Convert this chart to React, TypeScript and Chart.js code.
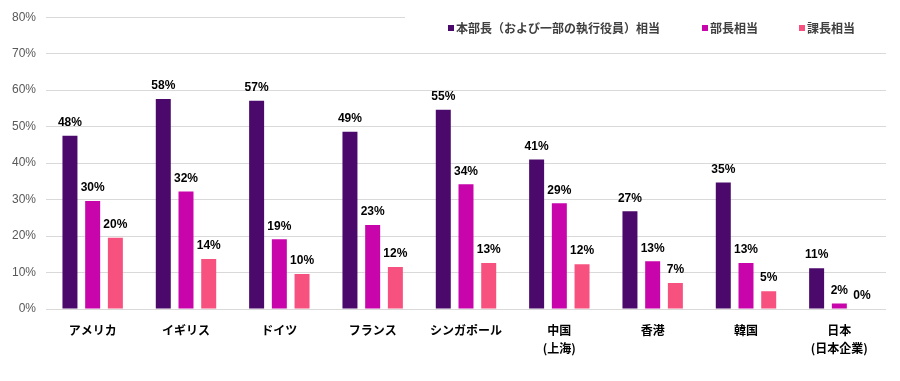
import React, { useEffect, useRef } from "react";
import { Chart, registerables } from "chart.js";

Chart.register(...registerables);

const categories: (string | string[])[] = [
  "アメリカ",
  "イギリス",
  "ドイツ",
  "フランス",
  "シンガポール",
  ["中国", "(上海)"],
  "香港",
  "韓国",
  ["日本", "(日本企業)"],
];

const seriesNames = ["本部長（および一部の執行役員）相当", "部長相当", "課長相当"];
const seriesColors = ["#4b0a6b", "#c805ab", "#f7527f"];

const executiveValues = [47.5, 57.6, 57.1, 48.6, 54.6, 41.0, 26.8, 34.7, 11.2];
const generalManagerValues = [29.6, 32.2, 19.1, 23.0, 34.2, 29.0, 13.1, 12.6, 1.5];
const sectionManagerValues = [19.5, 13.7, 9.6, 11.5, 12.6, 12.3, 7.1, 4.9, 0];

const yTicks = [0, 10, 20, 30, 40, 50, 60, 70, 80];

const labelPlugin = {
  id: "valueLabels",
  afterDatasetsDraw(chart: any) {
    const ctx = chart.ctx;
    ctx.save();
    ctx.font = "bold 12px 'Liberation Sans', Arial, sans-serif";
    ctx.fillStyle = "#000000";
    ctx.textAlign = "center";
    ctx.textBaseline = "middle";
    chart.data.datasets.forEach((ds: any, di: number) => {
      const meta = chart.getDatasetMeta(di);
      meta.data.forEach((el: any, i: number) => {
        const v = ds.data[i];
        ctx.fillText(`${Math.round(v)}%`, el.x, el.y - 13);
      });
    });
    ctx.restore();
  },
};

const legendPlugin = {
  id: "customLegend",
  afterDraw(chart: any) {
    const ctx = chart.ctx;
    ctx.save();
    ctx.fillStyle = "#ffffff";
    ctx.fillRect(405, 8, 495, 34);
    ctx.font = "bold 12px 'Noto Sans CJK JP', sans-serif";
    ctx.textBaseline = "middle";
    ctx.textAlign = "left";
    const xs = [448, 702, 799];
    const y = 28;
    seriesNames.forEach((name, i) => {
      ctx.fillStyle = seriesColors[i];
      ctx.fillRect(xs[i], y - 3, 6, 6);
      ctx.fillStyle = "#404040";
      ctx.fillText(name, xs[i] + 8, y);
    });
    ctx.restore();
  },
};

export default function App() {
  const canvasRef = useRef<HTMLCanvasElement | null>(null);

  useEffect(() => {
    document.body.style.margin = "0";
    const canvas = canvasRef.current;
    if (!canvas) return;
    const chart = new Chart(canvas, {
      type: "bar",
      data: {
        labels: categories,
        datasets: [
          { label: seriesNames[0], data: executiveValues, backgroundColor: seriesColors[0] },
          { label: seriesNames[1], data: generalManagerValues, backgroundColor: seriesColors[1] },
          { label: seriesNames[2], data: sectionManagerValues, backgroundColor: seriesColors[2] },
        ],
      },
      options: {
        animation: false,
        responsive: false,
        maintainAspectRatio: false,
        layout: { padding: { top: 15, right: 14, bottom: 12, left: 0 } },
        datasets: {
          bar: { categoryPercentage: 0.73, barPercentage: 0.66 },
        },
        plugins: {
          legend: { display: false },
          tooltip: { enabled: false },
        },
        scales: {
          x: {
            grid: { display: false, drawTicks: false },
            border: { display: false },
            ticks: {
              padding: 12,
              color: "#000000",
              font: { family: "'Noto Sans CJK JP', sans-serif", size: 12, weight: "bold", lineHeight: 1.5 },
              maxRotation: 0,
              autoSkip: false,
            },
          },
          y: {
            min: 0,
            max: 80,
            afterFit(scale: any) {
              scale.width = 46;
            },
            afterBuildTicks(scale: any) {
              scale.ticks = yTicks.map((v) => ({ value: v }));
            },
            grid: { color: "#d9d9d9", drawTicks: false, lineWidth: 1 },
            border: { display: false },
            ticks: {
              padding: 10,
              color: "#595959",
              font: { family: "'Liberation Sans', Arial, sans-serif", size: 12 },
              callback: (v: any) => `${v}%`,
            },
          },
        },
      },
      plugins: [labelPlugin, legendPlugin],
    });
    return () => chart.destroy();
  }, []);

  return (
    <div style={{ position: "absolute", left: 0, top: 0, width: 900, height: 381 }}>
      <canvas ref={canvasRef} width={900} height={381} style={{ width: 900, height: 381 }} />
    </div>
  );
}
